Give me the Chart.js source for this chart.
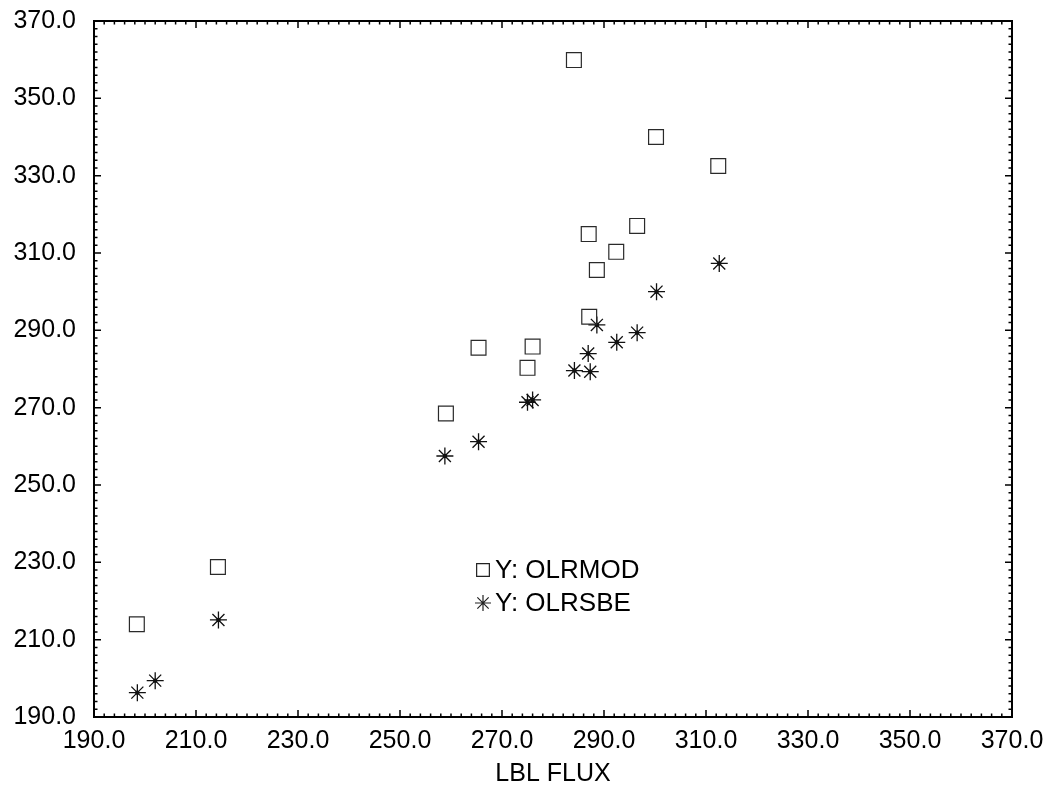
<!DOCTYPE html>
<html>
<head>
<meta charset="utf-8">
<script src="https://cdn.jsdelivr.net/npm/chart.js@4/dist/chart.umd.min.js"></script>
<style>
  body { margin: 0; background: #fff; }
  #wrap { width: 1055px; height: 789px; }
</style>
</head>
<body>
<div id="wrap"><canvas id="myChart" width="1055" height="789"></canvas></div>
<script>
// values
const lblFluxMod = [198.4, 214.3, 259.0, 265.4, 275.0, 276.0, 284.1, 287.0, 287.1, 288.6, 292.4, 296.5, 300.2, 312.4];
const olrMod     = [214.0, 228.8, 268.5, 285.5, 280.3, 285.8, 359.9, 314.9, 293.5, 305.6, 310.3, 317.0, 340.0, 332.5];

const lblFluxSbe = [198.5, 202.0, 214.4, 258.8, 265.4, 275.0, 276.0, 284.2, 286.9, 287.3, 288.6, 292.5, 296.5, 300.3, 312.6];
const olrSbe     = [196.3, 199.4, 215.1, 257.5, 261.2, 271.4, 272.0, 279.6, 284.0, 279.3, 291.4, 286.9, 289.4, 300.0, 307.3];

const axisMin = 190, axisMax = 370, majorStep = 20, minorStep = 2;
const seriesNames = ['Y: OLRMOD', 'Y: OLRSBE'];
const xTitle = 'LBL FLUX';

const font = "'Liberation Sans', Arial, Helvetica, sans-serif";

function toPoints(xs, ys) {
    return xs.map((x, i) => ({ x: x, y: ys[i] }));
}

function isMajor(v) {
    return Math.abs(((v - axisMin) / majorStep) - Math.round((v - axisMin) / majorStep)) < 1e-6;
}

function tickLabel(v) {
    return isMajor(v) ? Number(v).toFixed(1) : '';
}

// frame + inward ticks on all four sides
const framePlugin = {
    id: 'frame',
    afterDraw(chart) {
        const ctx = chart.ctx;
        const a = chart.chartArea;
        const xs = chart.scales.x, ys = chart.scales.y;
        ctx.save();
        ctx.strokeStyle = '#000';
        ctx.lineWidth = 1.5;
        ctx.beginPath();
        xs.ticks.forEach(t => {
            const px = xs.getPixelForValue(t.value);
            const len = isMajor(t.value) ? 7 : 3.5;
            ctx.moveTo(px, a.bottom); ctx.lineTo(px, a.bottom - len);
            ctx.moveTo(px, a.top); ctx.lineTo(px, a.top + len);
        });
        ys.ticks.forEach(t => {
            const py = ys.getPixelForValue(t.value);
            const len = isMajor(t.value) ? 7 : 3.5;
            ctx.moveTo(a.left, py); ctx.lineTo(a.left + len, py);
            ctx.moveTo(a.right, py); ctx.lineTo(a.right - len, py);
        });
        ctx.stroke();
        ctx.lineWidth = 2;
        ctx.strokeRect(a.left, a.top, a.right - a.left, a.bottom - a.top);
        ctx.restore();
    }
};

// legend sitting inside the plot
const innerLegend = {
    id: 'innerLegend',
    afterDraw(chart) {
        const ctx = chart.ctx;
        const items = [
            { style: 'rect', radius: 9, y: 570 },
            { style: 'star', radius: 8, y: 603 }
        ];
        ctx.save();
        ctx.strokeStyle = '#222';
        ctx.lineWidth = 1.2;
        ctx.font = '26px ' + font;
        ctx.textBaseline = 'middle';
        items.forEach((it, i) => {
            ctx.fillStyle = 'rgba(0,0,0,0)';
            Chart.helpers.drawPoint(ctx, { pointStyle: it.style, radius: it.radius, borderWidth: 1.2, rotation: 0 }, 483, it.y);
            ctx.fillStyle = '#000';
            ctx.fillText(seriesNames[i], 495, it.y + 1);
        });
        ctx.restore();
    }
};

const ctx = document.getElementById('myChart').getContext('2d');
new Chart(ctx, {
    type: 'scatter',
    data: {
        datasets: [{
            label: seriesNames[0],
            data: toPoints(lblFluxMod, olrMod),
            pointStyle: 'rect',
            pointRadius: 10.5,
            pointHoverRadius: 10.5,
            borderColor: '#2a2a2a',
            backgroundColor: 'rgba(0,0,0,0)',
            borderWidth: 1.2
        }, {
            label: seriesNames[1],
            data: toPoints(lblFluxSbe, olrSbe),
            pointStyle: 'star',
            pointRadius: 8.5,
            pointHoverRadius: 8.5,
            borderColor: '#111',
            backgroundColor: '#111',
            borderWidth: 1.3
        }, {
            label: 'dots',
            data: toPoints(lblFluxSbe, olrSbe),
            pointStyle: 'circle',
            pointRadius: 2.2,
            borderWidth: 0,
            backgroundColor: '#000'
        }]
    },
    options: {
        responsive: false,
        animation: false,
        events: [],
        layout: { padding: { top: 21, right: 43, left: 0, bottom: 0 } },
        plugins: {
            legend: { display: false },
            tooltip: { enabled: false }
        },
        scales: {
            x: {
                type: 'linear',
                min: axisMin,
                max: axisMax,
                grid: { display: false },
                border: { display: false },
                ticks: {
                    stepSize: minorStep,
                    maxTicksLimit: 1000,
                    autoSkip: false,
                    maxRotation: 0,
                    padding: 1,
                    color: '#000',
                    font: { family: font, size: 25 },
                    callback: tickLabel
                },
                title: {
                    display: true,
                    text: xTitle,
                    color: '#000',
                    font: { family: font, size: 25 },
                    padding: { top: 0, bottom: 0 }
                },
                afterFit(scale) {
                    scale.height = 72;
                    scale.paddingLeft = 0;
                    scale.paddingRight = 0;
                }
            },
            y: {
                type: 'linear',
                min: axisMin,
                max: axisMax,
                grid: { display: false },
                border: { display: false },
                ticks: {
                    stepSize: minorStep,
                    maxTicksLimit: 1000,
                    autoSkip: false,
                    padding: 10,
                    color: '#000',
                    font: { family: font, size: 25 },
                    callback: tickLabel
                },
                afterFit(scale) {
                    scale.width = 94;
                    scale.paddingTop = 0;
                    scale.paddingBottom = 0;
                }
            }
        }
    },
    plugins: [framePlugin, innerLegend]
});
</script>
</body>
</html>
